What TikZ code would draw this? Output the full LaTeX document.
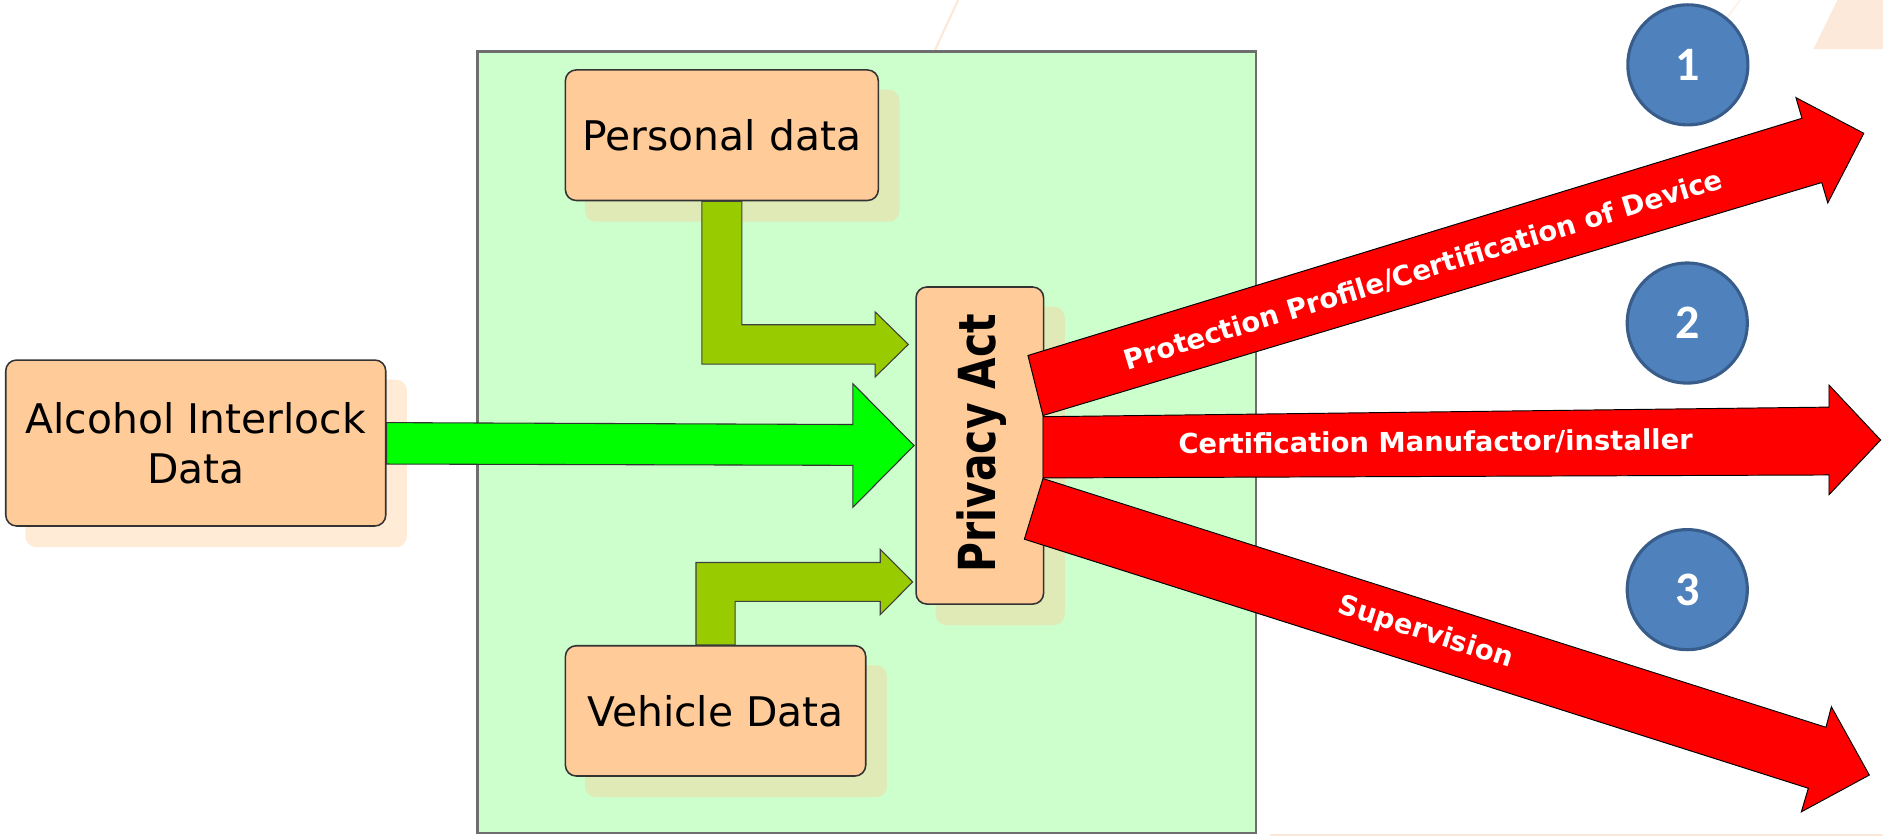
\documentclass[tikz,border=0pt]{standalone}
\usepackage{fontspec}
\setmainfont{DejaVu Sans}
\newfontfamily\numfont{Carlito}
\usetikzlibrary{calc}
\definecolor{peach}{HTML}{FFCC99}
\definecolor{mint}{HTML}{CCFFCC}
\definecolor{framegray}{HTML}{6E6E6E}
\definecolor{oliveg}{HTML}{99CC00}
\definecolor{brightgreen}{HTML}{00FF00}
\definecolor{circfill}{HTML}{4F81BD}
\definecolor{circline}{HTML}{385D8A}
\definecolor{faintpeach}{HTML}{FCE9D9}
\pgfdeclarelayer{back}
\pgfdeclarelayer{shad}
\pgfsetlayers{back,shad,main}
\begin{document}
\begin{tikzpicture}[x=1pt,y=-1pt,
  databox/.style={draw=black!80, line width=1.3pt, fill=peach, rounded corners=9pt,
    inner sep=0pt, align=center, font=\fontsize{34}{41.5}\selectfont},
  shadowfill/.style={fill=peach, fill opacity=0.4, rounded corners=9pt},
  redarrow/.style={fill=red, draw=black, line width=0.8pt, line join=miter},
  greenarrow/.style={fill=brightgreen, draw=black!80, line width=0.9pt, line join=miter},
  olivearrow/.style={fill=oliveg, draw=black!75, line width=0.9pt, line join=miter},
  lbl/.style={text=white, font=\bfseries\fontsize{22.8}{22.8}\selectfont, inner sep=0pt},
  numcircle/.style={circle, fill=circfill, draw=circline, line width=2.6pt,
    minimum size=100pt, inner sep=0pt, text=white, font=\numfont\bfseries\fontsize{40}{40}\selectfont}
]
\useasboundingbox (0,0) rectangle (1568,696);

% boxes
\node[databox, minimum width=260.6pt, minimum height=108.7pt] (pd) at (601.1,112.6) {Personal data};
\node[databox, minimum width=316.4pt, minimum height=138.2pt] (al) at (163,368.9) {Alcohol Interlock\\Data};
\node[databox, minimum width=250.1pt, minimum height=108.5pt] (vd) at (595.85,591.95) {Vehicle Data};
\node[databox, minimum width=106.2pt, minimum height=264pt] (pa) at (815.9,371) {};
\node[rotate=90, anchor=base, inner sep=0pt, font=\bfseries\fontsize{34}{34}\selectfont] (patext) at (829,369) {\scalebox{1}[1.25]{Privacy Act}};

% shadows
\begin{pgfonlayer}{shad}
\foreach \n in {pd,al,vd,pa}
  \fill[shadowfill] ($(\n.north west)+(17,17)$) rectangle ($(\n.south east)+(17,17)$);
\end{pgfonlayer}

% background frame and faint decorations
\begin{pgfonlayer}{back}
\fill[faintpeach] (1510,41) -- (1530,0) -- (1568,0) -- (1568,41) -- cycle;
\fill[faintpeach] (1057.6,694.3) rectangle (1568,696);
\draw[faintpeach, line width=1.8pt] (797.8,0) -- (778.6,41.6);
\draw[faintpeach!60, line width=1.5pt] (1449,0) -- (1426,31);
\node[draw=framegray, line width=2pt, fill=mint, minimum width=648.3pt,
  minimum height=650.4pt, inner sep=0pt] (frame) at (721.85,368.2) {};
\end{pgfonlayer}

% green arrow from alcohol box to privacy act
\coordinate (gtip) at ($(pa.west)+(-1,0)$);
\draw[greenarrow] ($(al.east)+(0,-17)$) -- ($(gtip)+(-51,-17.5)$) -- ($(gtip)+(-51,-51.5)$)
  -- (gtip) -- ($(gtip)+(-51,51.5)$) -- ($(gtip)+(-51,16.5)$) -- ($(al.east)+(0,17.5)$) -- cycle;

% olive elbow arrow from personal data
\coordinate (p0) at (pd.south);
\coordinate (ptip) at (756.4,286.8);
\draw[olivearrow] ($(p0)+(-16.7,0)$) -- ($(p0|-ptip)+(-16.7,16.4)$) -- ($(ptip)+(-27.7,16.4)$)
  -- ($(ptip)+(-27.7,27.1)$) -- (ptip) -- ($(ptip)+(-27.7,-27.1)$) -- ($(ptip)+(-27.7,-16.4)$)
  -- ($(p0|-ptip)+(16.7,-16.4)$) -- ($(p0)+(16.7,0)$) -- cycle;

% olive elbow arrow from vehicle data
\coordinate (v0) at (vd.north);
\coordinate (vtip) at (760,484.6);
\draw[olivearrow] ($(v0)+(-16.3,0)$) -- ($(v0|-vtip)+(-16.3,-16.2)$) -- ($(vtip)+(-27,-16.2)$)
  -- ($(vtip)+(-27,-27.2)$) -- (vtip) -- ($(vtip)+(-27,27.2)$) -- ($(vtip)+(-27,16.2)$)
  -- ($(v0|-vtip)+(16.3,16.2)$) -- ($(v0)+(16.3,0)$) -- cycle;

% red arrows
\coordinate (r1tip) at (1552,111);
\coordinate (r2tip) at (1566,366.4);
\coordinate (r3tip) at (1556.6,645.4);
\draw[redarrow] (856,296) -- (1500.5,98.5) -- (1495.5,81.3) -- (r1tip) -- (1522,169)
  -- (1517,152) -- (868.5,346) -- cycle;
\draw[redarrow] (868.5,347) -- (1523,339) -- (1523,320.6) -- (r2tip) -- (1523,412)
  -- (1523,395.5) -- (868.5,398) -- cycle;
\draw[redarrow] (868.5,398.5) -- (1520.5,605.6) -- (1525,588.5) -- (r3tip) -- (1500,676)
  -- (1505.8,656.4) -- (853,449) -- cycle;

% labels on red arrows
\node[lbl, rotate=17] (l1) at (1185,225) {Protection Profile/Certification of Device};
\node[lbl, rotate=0.5] (l2) at (1195.5,368.5) {Certification Manufactor/installer};
\node[lbl, rotate=-17.7] (l3) at (1187,527) {Supervision};

% numbered circles
\node[numcircle] (c1) at (1405.5,54) {1};
\node[numcircle] (c2) at (1405,269) {2};
\node[numcircle] (c3) at (1405,491) {3};
\end{tikzpicture}
\end{document}
